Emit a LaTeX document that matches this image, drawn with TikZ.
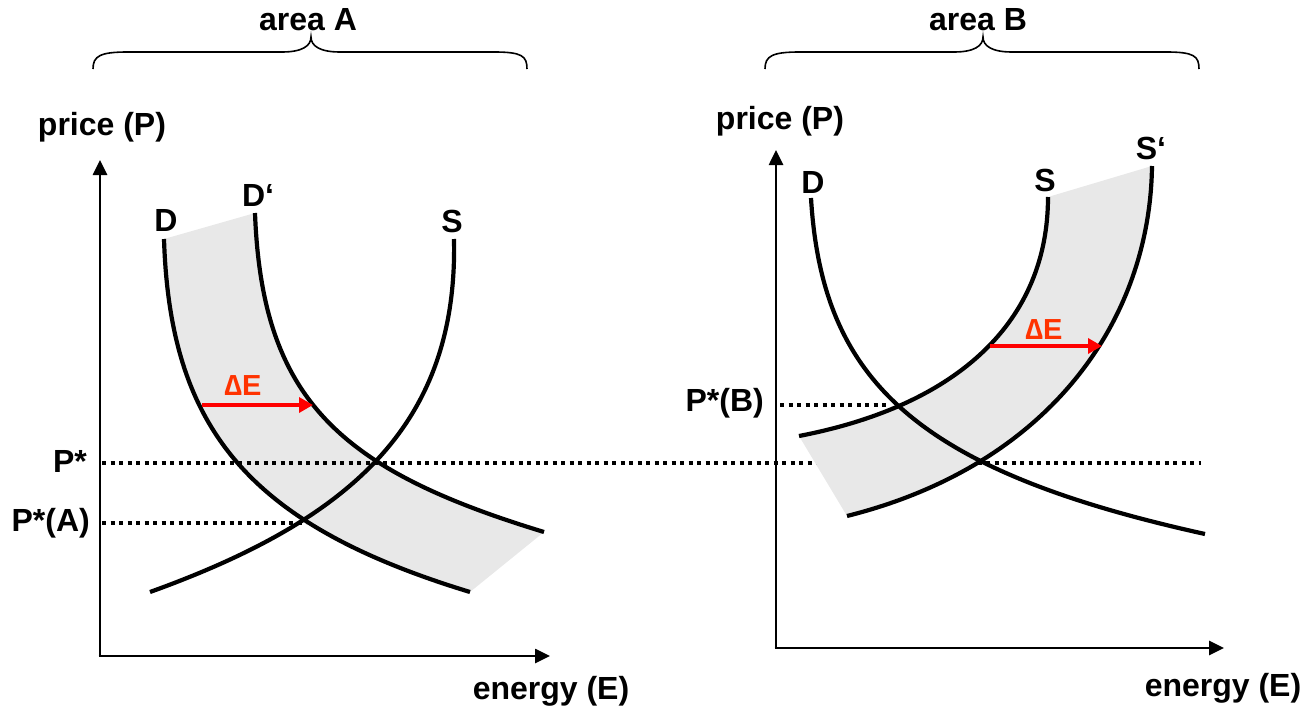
\documentclass[tikz,border=0pt]{standalone}
\usepackage{fontspec}
\setmainfont{Liberation Sans}
\usetikzlibrary{arrows.meta}
\definecolor{bandgray}{HTML}{E8E8E8}
\definecolor{deltared}{RGB}{255,51,0}
\tikzset{
  lbl/.style={font=\fontsize{32}{38}\selectfont\bfseries, inner sep=0pt},
  dlbl/.style={font=\fontsize{29}{34}\selectfont\bfseries, text=deltared, inner sep=0pt},
  curve/.style={line width=4.2pt},
  axis/.style={line width=2.6pt, -{Triangle[length=15pt,width=14pt]}},
  dots/.style={line width=3.6pt, dash pattern=on 4.2pt off 4.3pt},
  brace/.style={line width=1.6pt},
  shiftarrow/.style={red, line width=3.4pt, -{Triangle[length=14pt,width=15pt]}},
}
\begin{document}
\begin{tikzpicture}[x=1pt,y=-1pt]
\useasboundingbox (0,0) rectangle (1307,712);

% ---------- area A ----------
\coordinate (DAt) at (164,239);   \coordinate (DAb) at (470,592);
\coordinate (DpAt) at (255,213);  \coordinate (DpAb) at (544,532);
\coordinate (SAb) at (150,592);   \coordinate (SAt) at (454,239);

\fill[bandgray] (DAt) .. controls (170,430) and (250,525) .. (DAb)
  -- (DpAb) .. controls (340,470) and (262,400) .. (DpAt) -- cycle;

\coordinate (PsL) at (102,463); \coordinate (PsR) at (1201,463);
\draw[dots] (PsL) -- (PsR);
\coordinate (PaL) at (102,523); \coordinate (PaR) at (306,523);
\draw[dots] (PaL) -- (PaR);

\draw[curve] (DAt) .. controls (170,430) and (250,525) .. (DAb);
\draw[curve] (DpAt) .. controls (262,400) and (340,470) .. (DpAb);
\draw[curve] (SAb) .. controls (350,520) and (458,425) .. (SAt);

\coordinate (oA) at (100,656);
\coordinate (yA) at (100,160);
\coordinate (xA) at (550,656);
\draw[axis] (oA) -- (yA);
\draw[axis] ([xshift=-1.3pt]oA) -- (xA);

\coordinate (dEa1) at (202,405);
\coordinate (dEa2) at (313,405);
\draw[shiftarrow] (dEa1) -- (dEa2);

\draw[brace] (93,69) .. controls (93,56) and (100,52) .. (128,52) -- (282,52)
  .. controls (302,52) and (311,46) .. (311,37)
  .. controls (311,46) and (320,52) .. (340,52) -- (494,52)
  .. controls (522,52) and (527,56) .. (527,69);

\node[lbl] (areaA) at (308,20) {area A};
\node[lbl] (priceA) at (102,127) {price (P)};
\node[lbl] (energyA) at (551,691) {energy (E)};
\node[lbl] (DA) at (166,220) {D};
\node[lbl] (DpA) at (258,195) {D‘};
\node[lbl] (SA) at (452,221) {S};
\node[lbl, anchor=east] (Pstar) at (87,461) {P*};
\node[lbl, anchor=east] (PstarA) at (90,523) {P*(A)};
\node[dlbl] (dEA) at (243,386) {∆E};

% ---------- area B ----------
\coordinate (DBt) at (811,198);  \coordinate (DBb) at (1205,534);
\coordinate (SBb) at (799,436);  \coordinate (SBt) at (1048,197);
\coordinate (SpBb) at (847,516); \coordinate (SpBt) at (1152,166);

\fill[bandgray] (SBb) .. controls (960,405) and (1048,320) .. (SBt)
  -- (SpBt) .. controls (1150,320) and (1050,465) .. (SpBb) -- cycle;

\coordinate (PbL) at (780,405); \coordinate (PbR) at (890,405);
\draw[dots] (PbL) -- (PbR);

\draw[curve] (DBt) .. controls (822,380) and (915,470) .. (DBb);
\draw[curve] (SBb) .. controls (960,405) and (1048,320) .. (SBt);
\draw[curve] (SpBb) .. controls (1050,465) and (1150,320) .. (SpBt);

\coordinate (oB) at (776,648);
\coordinate (yB) at (776,150);
\coordinate (xB) at (1224,648);
\draw[axis] (oB) -- (yB);
\draw[axis] ([xshift=-1.3pt]oB) -- (xB);

\coordinate (dEb1) at (990,346);
\coordinate (dEb2) at (1102,346);
\draw[shiftarrow] (dEb1) -- (dEb2);

\draw[brace] (765,69) .. controls (765,56) and (772,52) .. (800,52) -- (954,52)
  .. controls (974,52) and (983,46) .. (983,37)
  .. controls (983,46) and (992,52) .. (1012,52) -- (1166,52)
  .. controls (1194,52) and (1199,56) .. (1199,69);

\node[lbl] (areaB) at (978,20) {area B};
\node[lbl] (priceB) at (780,121) {price (P)};
\node[lbl] (energyB) at (1223,688) {energy (E)};
\node[lbl] (DB) at (813,182) {D};
\node[lbl] (SB) at (1045,180) {S};
\node[lbl] (SpB) at (1151,148) {S‘};
\node[lbl, anchor=east] (PstarB) at (764,403) {P*(B)};
\node[dlbl] (dEB) at (1044,330) {∆E};
\end{tikzpicture}
\end{document}
